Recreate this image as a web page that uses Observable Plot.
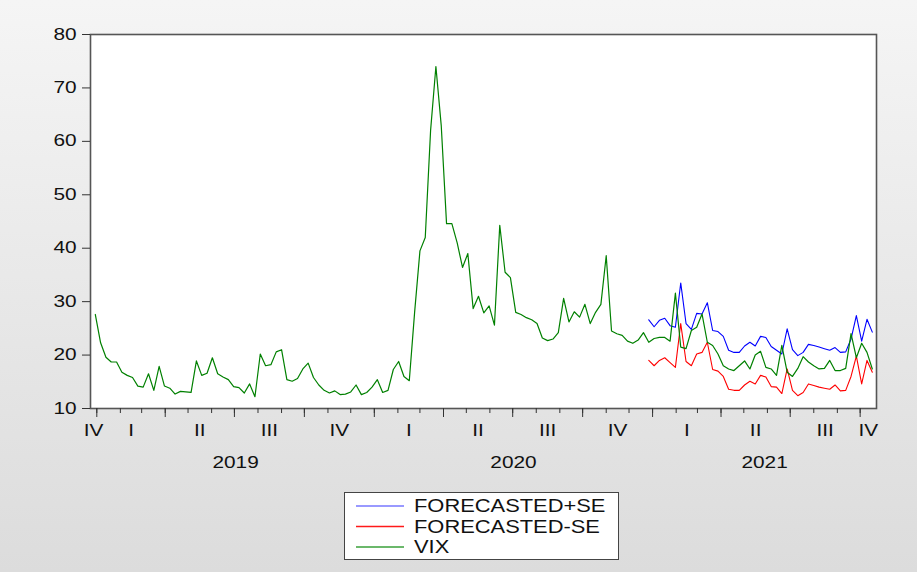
<!DOCTYPE html>
<html><head><meta charset="utf-8">
<script src="https://cdn.jsdelivr.net/npm/d3@7"></script>
<script src="https://cdn.jsdelivr.net/npm/@observablehq/plot@0.6"></script>
<style>
html,body{margin:0;padding:0;}
#wrap{position:relative;width:917px;height:572px;background:linear-gradient(#f5f5f5,#dcdcdc);overflow:hidden;font-family:"Liberation Sans",Arial,sans-serif;}
#chart{position:absolute;left:0;top:0;}
#legend{position:absolute;left:344px;top:492px;}
</style></head>
<body>
<div id="wrap"><div id="chart"></div><div id="legend"></div></div>
<script>
// ---- data ----
const startDate = "2018-12-30";      // first weekly observation
const forecastStart = "2020-12-27";  // first forecast week
const vix = [27.6,22.3,19.6,18.7,18.7,16.8,16.2,15.8,14.2,14.0,
16.5,13.4,17.9,14.2,13.8,12.7,13.2,13.1,13.0,18.9,
16.2,16.6,19.5,16.5,15.9,15.4,14.1,13.9,12.9,14.6,
12.2,20.2,18.0,18.2,20.6,21.0,15.4,15.1,15.6,17.4,
18.5,15.8,14.4,13.4,12.9,13.3,12.6,12.7,13.1,14.4,
12.6,13.0,14.0,15.4,13.0,13.4,17.3,18.8,16.0,15.2,
28.0,39.5,42.0,62.0,74.0,63.0,44.6,44.6,41.0,36.4,
39.0,28.7,31.0,27.9,29.2,25.6,44.3,35.5,34.5,28.0,
27.6,27.0,26.6,25.9,23.2,22.7,23.0,24.2,30.6,26.2,
28.1,27.1,29.5,25.9,28.0,29.5,38.6,24.5,24.0,23.7,
22.6,22.2,22.8,24.2,22.4,23.1,23.3,23.3,22.6,31.6,
21.5,21.2,24.6,25.2,27.7,22.4,21.8,20.2,18.0,17.4,
17.1,18.0,18.9,17.4,20.0,20.7,17.7,17.4,16.2,21.8,
16.8,16.0,17.5,19.7,18.7,18.0,17.4,17.5,19.0,17.1,
17.1,17.5,24.0,19.5,22.2,20.5,17.4];
const forecastPlusSE = [26.6,25.3,26.5,26.9,25.5,25.2,33.5,25.9,24.8,27.8,
27.7,29.8,24.6,24.4,23.5,20.9,20.5,20.5,21.7,22.4,
21.7,23.5,23.3,21.6,20.9,20.2,24.9,21.0,19.9,20.5,
22.0,21.8,21.5,21.2,20.9,21.4,20.5,20.6,23.0,27.4,
22.6,26.7,24.3];
const forecastMinusSE = [19.0,18.0,19.0,19.5,18.6,17.7,25.9,18.8,18.0,20.2,
20.5,22.4,17.3,17.0,16.0,13.6,13.4,13.4,14.4,15.1,
14.6,16.2,15.9,14.1,14.0,12.8,17.4,13.4,12.4,13.0,
14.6,14.3,14.0,13.8,13.6,14.4,13.3,13.4,16.0,19.8,
14.6,19.0,16.8];
const seriesNames = ["FORECASTED+SE","FORECASTED-SE","VIX"];
const seriesColors = ["#0000ff","#ff0000","#008000"];
const legendColors = ["#7777ff","#ff1a1a","#3aa03a"];
const yTicks = [10,20,30,40,50,60,70,80];
const quarterLabels = ["IV","I","II","III","IV","I","II","III","IV","I","II","III","IV"];
const yearLabels = ["2019","2020","2021"];
const xStart = "2018-12-23T17:00Z", xEnd = "2021-10-22T12:00Z";

// ---- build rows ----
const DAY = 864e5;
const week = (s, i) => new Date(Date.parse(s) + i * 7 * DAY);
const vixRows = vix.map((v, i) => ({date: week(startDate, i), value: v}));
const plusRows = forecastPlusSE.map((v, i) => ({date: week(forecastStart, i), value: v}));
const minusRows = forecastMinusSE.map((v, i) => ({date: week(forecastStart, i), value: v}));
const x0 = new Date(xStart), x1 = new Date(xEnd);
const months = d3.utcMonth.range(x0, x1);
const quarters = months.filter(d => d.getUTCMonth() % 3 === 0);
const qb = [x0, ...quarters, x1];
const qRows = quarterLabels.map((t, i) => ({label: t, mid: new Date((+qb[i] + +qb[i + 1]) / 2)}));
const yRows = yearLabels.map(t => {
  const a = Math.max(+x0, Date.UTC(+t, 0, 1)), b = Math.min(+x1, Date.UTC(+t + 1, 0, 1));
  return {label: t, mid: new Date((a + b) / 2)};
});

const chart = Plot.plot({
  width: 917, height: 480,
  marginLeft: 90, marginRight: 41, marginTop: 34, marginBottom: 72,
  style: {background: "transparent", fontFamily: "'Liberation Sans', Arial, sans-serif", color: "#111", overflow: "visible"},
  x: {type: "utc", domain: [x0, x1]},
  y: {domain: [10, 80]},
  marks: [
    Plot.frame({fill: "white", stroke: "none"}),
    Plot.line(plusRows, {x: "date", y: "value", stroke: seriesColors[0], strokeWidth: 1.1}),
    Plot.line(minusRows, {x: "date", y: "value", stroke: seriesColors[1], strokeWidth: 1.1}),
    Plot.line(vixRows, {x: "date", y: "value", stroke: seriesColors[2], strokeWidth: 1.2}),
    Plot.frame({stroke: "#555", strokeWidth: 1.6}),
    Plot.axisY({ticks: yTicks, tickSize: 8, tickPadding: 6, fontSize: 16, stroke: "#333", label: null}),
    Plot.axisX({ticks: months, tickSize: 5, tickFormat: () => "", stroke: "#333", label: null}),
    Plot.axisX({ticks: quarters, tickSize: 9, tickFormat: () => "", stroke: "#333", label: null}),
    Plot.text(qRows, {x: "mid", text: "label", frameAnchor: "bottom", dy: 27, fontSize: 16, fill: "#111"}),
    Plot.text(yRows, {x: "mid", text: "label", frameAnchor: "bottom", dy: 59, fontSize: 16, fill: "#111"})
  ]
});
document.getElementById("chart").appendChild(chart);
// widen glyphs like the original's stretched text
d3.select(chart).selectAll("text").each(function () {
  const n = this.getComputedTextLength();
  if (n > 0) { this.setAttribute("textLength", n * 1.3); this.setAttribute("lengthAdjust", "spacingAndGlyphs"); }
});

// ---- legend ----
const lg = d3.select("#legend").append("svg").attr("width", 276).attr("height", 70);
lg.append("rect").attr("x", 0.5).attr("y", 0.5).attr("width", 274).attr("height", 67)
  .attr("fill", "#fff").attr("stroke", "#444");
seriesNames.forEach((name, i) => {
  const cy = 14 + i * 20.5;
  lg.append("line").attr("x1", 12).attr("x2", 60).attr("y1", cy).attr("y2", cy)
    .attr("stroke", legendColors[i]).attr("stroke-width", 1.6);
  const t = lg.append("text").attr("x", 70).attr("y", cy).attr("dy", "0.36em")
    .attr("font-size", 17.5).attr("fill", "#111")
    .attr("font-family", "'Liberation Sans', Arial, sans-serif").text(name);
  const n = t.node().getComputedTextLength();
  t.attr("textLength", n * 1.25).attr("lengthAdjust", "spacingAndGlyphs");
});
</script>
</body></html>
